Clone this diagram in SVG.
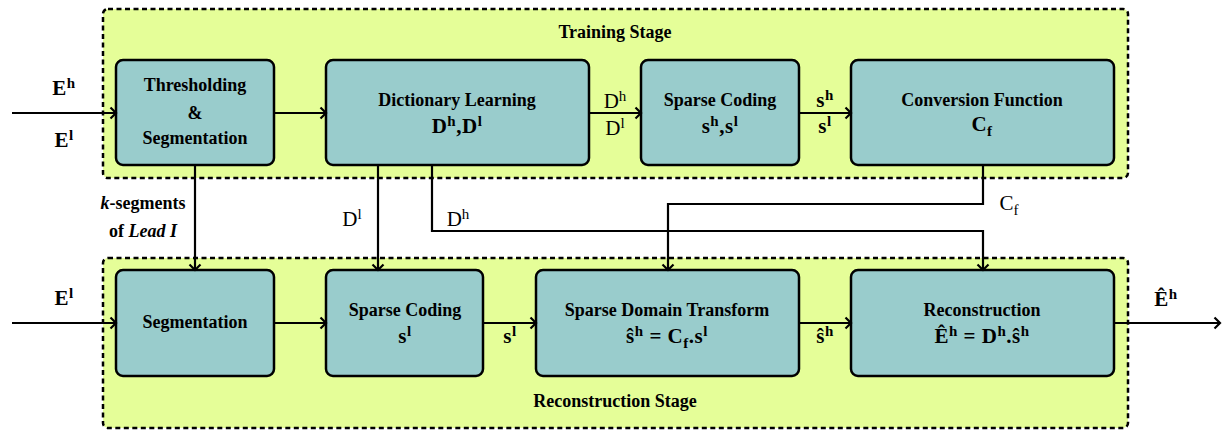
<svg xmlns="http://www.w3.org/2000/svg" width="1229" height="430" viewBox="0 0 1229 430">
<style>
.stage{fill:#E5FE98;stroke:#000;stroke-width:2.5;stroke-dasharray:5 3.5}
.node{fill:#99CCCC;stroke:#000;stroke-width:2.5}
.t{font-family:"Liberation Serif",serif;font-weight:bold;font-size:18px;fill:#000;text-anchor:middle}
.m{font-family:"Liberation Serif",serif;font-weight:bold;font-size:21px;fill:#000;text-anchor:middle;letter-spacing:0.5px}
.ml{font-family:"Liberation Serif",serif;font-size:21px;fill:#000;text-anchor:middle}
.sup{font-size:15px}
.c{fill:none;stroke:#000;stroke-width:2.2}
</style>
<defs>
<marker id="arr" markerWidth="12" markerHeight="14" refX="9" refY="7" orient="auto" markerUnits="userSpaceOnUse">
<path d="M3.5,1.5 L9,7 L3.5,12.5" fill="none" stroke="#000" stroke-width="2.2"/>
</marker>
</defs>
<g id="training-stage">
<rect class="stage" x="103" y="9" width="1025" height="169" rx="5"/>
<text class="t" x="615" y="38">Training Stage</text>
</g>
<g id="reconstruction-stage">
<rect class="stage" x="103" y="258" width="1025" height="170" rx="5"/>
<text class="t" x="615" y="407">Reconstruction Stage</text>
</g>
<g id="thresholding">
<rect class="node" x="116" y="60" width="158" height="105" rx="7"/>
<text class="t" x="195" y="91">Thresholding</text>
<text class="t" x="195" y="119">&amp;</text>
<text class="t" x="195" y="144">Segmentation</text>
</g>
<g id="dictionary-learning">
<rect class="node" x="326" y="60" width="263" height="105" rx="7"/>
<text class="t" x="457" y="106">Dictionary Learning</text>
<text class="m" x="457" y="133">D<tspan class="sup" dy="-7">h</tspan><tspan dy="7">,D</tspan><tspan class="sup" dy="-7">l</tspan></text>
</g>
<g id="sparse-coding-train">
<rect class="node" x="641" y="60" width="158" height="105" rx="7"/>
<text class="t" x="720" y="106">Sparse Coding</text>
<text class="m" x="720" y="133">s<tspan class="sup" dy="-7">h</tspan><tspan dy="7">,s</tspan><tspan class="sup" dy="-7">l</tspan></text>
</g>
<g id="conversion-function">
<rect class="node" x="851" y="60" width="263" height="105" rx="7"/>
<text class="t" x="982" y="106">Conversion Function</text>
<text class="m" x="982" y="131">C<tspan class="sup" dy="5">f</tspan></text>
</g>
<g id="segmentation">
<rect class="node" x="116" y="270" width="158" height="106" rx="7"/>
<text class="t" x="195" y="328">Segmentation</text>
</g>
<g id="sparse-coding-rec">
<rect class="node" x="326" y="270" width="157" height="106" rx="7"/>
<text class="t" x="405" y="316">Sparse Coding</text>
<text class="m" x="405" y="343">s<tspan class="sup" dy="-7">l</tspan></text>
</g>
<g id="sparse-domain-transform">
<rect class="node" x="536" y="270" width="263" height="106" rx="7"/>
<text class="t" x="667" y="316">Sparse Domain Transform</text>
<text class="m" x="667" y="343">ŝ<tspan class="sup" dy="-7">h</tspan><tspan dy="7"> = C</tspan><tspan class="sup" dy="5">f</tspan><tspan dy="-5">.s</tspan><tspan class="sup" dy="-7">l</tspan></text>
</g>
<g id="reconstruction">
<rect class="node" x="851" y="270" width="263" height="106" rx="7"/>
<text class="t" x="982" y="316">Reconstruction</text>
<text class="m" x="982" y="343">Ê<tspan class="sup" dy="-7">h</tspan><tspan dy="7"> = D</tspan><tspan class="sup" dy="-7">h</tspan><tspan dy="7">.ŝ</tspan><tspan class="sup" dy="-7">h</tspan></text>
</g>
<g id="connectors">
<path class="c" d="M12,113 L116,113" marker-end="url(#arr)"/>
<path class="c" d="M274,113 L326,113" marker-end="url(#arr)"/>
<path class="c" d="M589,113 L641,113" marker-end="url(#arr)"/>
<path class="c" d="M799,113 L851,113" marker-end="url(#arr)"/>
<path class="c" d="M12,323 L116,323" marker-end="url(#arr)"/>
<path class="c" d="M274,323 L326,323" marker-end="url(#arr)"/>
<path class="c" d="M483,323 L536,323" marker-end="url(#arr)"/>
<path class="c" d="M799,323 L851,323" marker-end="url(#arr)"/>
<path class="c" d="M1114,323 L1220,323" marker-end="url(#arr)"/>
<path class="c" d="M195,165 L195,270" marker-end="url(#arr)"/>
<path class="c" d="M378,165 L378,270" marker-end="url(#arr)"/>
<path class="c" d="M432,165 L432,231 L983,231 L983,270" marker-end="url(#arr)"/>
<path class="c" d="M983,165 L983,204 L668,204 L668,270" marker-end="url(#arr)"/>
<text class="m" x="64" y="95">E<tspan class="sup" dy="-7">h</tspan></text>
<text class="m" x="64" y="147">E<tspan class="sup" dy="-7">l</tspan></text>
<text class="ml" x="615" y="108">D<tspan class="sup" dy="-7">h</tspan></text>
<text class="ml" x="615" y="135">D<tspan class="sup" dy="-7">l</tspan></text>
<text class="m" x="825" y="107">s<tspan class="sup" dy="-7">h</tspan></text>
<text class="m" x="825" y="133">s<tspan class="sup" dy="-7">l</tspan></text>
<text class="t" x="143" y="209"><tspan font-style="italic">k</tspan>-segments</text>
<text class="t" x="143" y="237">of <tspan font-style="italic">Lead I</tspan></text>
<text class="ml" x="352" y="226">D<tspan class="sup" dy="-7">l</tspan></text>
<text class="ml" x="458" y="226">D<tspan class="sup" dy="-7">h</tspan></text>
<text class="ml" x="1009" y="210">C<tspan class="sup" dy="5">f</tspan></text>
<text class="m" x="64" y="305">E<tspan class="sup" dy="-7">l</tspan></text>
<text class="m" x="510" y="343">s<tspan class="sup" dy="-7">l</tspan></text>
<text class="m" x="825" y="343">ŝ<tspan class="sup" dy="-7">h</tspan></text>
<text class="m" x="1166" y="306">Ê<tspan class="sup" dy="-7">h</tspan></text>
</g>
</svg>
